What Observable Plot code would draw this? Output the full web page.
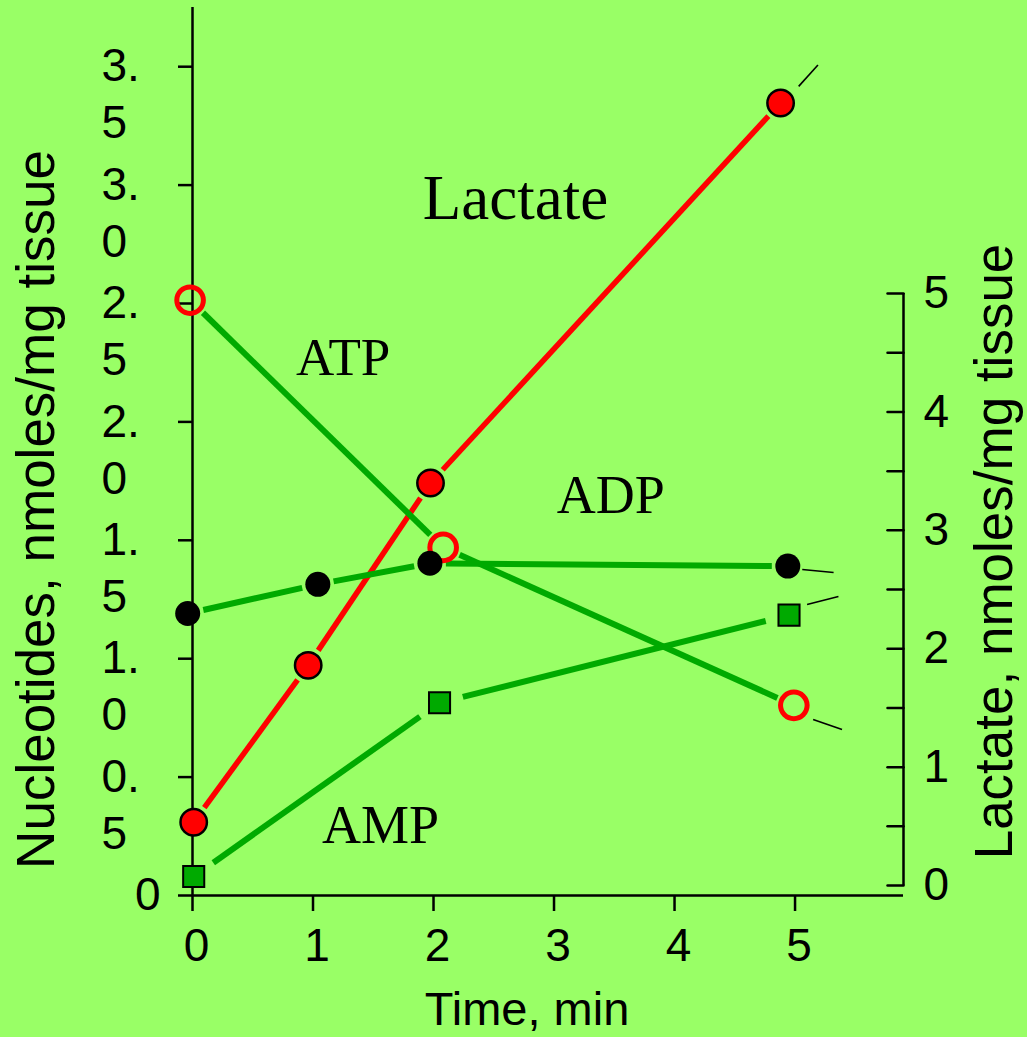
<!DOCTYPE html>
<html><head><meta charset="utf-8">
<script src="https://cdn.jsdelivr.net/npm/d3@7"></script>
<script src="https://cdn.jsdelivr.net/npm/@observablehq/plot@0.6"></script>
<style>
html,body{margin:0;padding:0;background:#99ff66;overflow:hidden;}
</style></head><body><div id="chart"></div>
<script>
// ---- data ----
const timeLactate = [0.01, 0.96, 1.975, 4.88];
const lactate     = [0.535, 1.86, 3.40, 6.61];     // nmoles/mg tissue (right axis)
const timeATP = [-0.02, 2.08, 4.99];
const atp     = [2.514, 1.47, 0.803];              // nmoles/mg tissue (left axis)
const timeADP = [-0.04, 1.04, 1.97, 4.94];
const adp     = [1.191, 1.314, 1.403, 1.391];
const timeAMP = [0.01, 2.05, 4.95];
const amp     = [0.080, 0.814, 1.184];

const xTicks = [0, 1, 2, 3, 4, 5];
const nucTicks = [0, 0.5, 1, 1.5, 2, 2.5, 3, 3.5];
const lactTicks = [0, 0.5, 1, 1.5, 2, 2.5, 3, 3.5, 4, 4.5, 5];
const lactLabels = [0, 1, 2, 3, 4, 5];

const seriesNames = ["Lactate", "ATP", "ADP", "AMP"];
const seriesLabelT = [2.68, 1.25, 3.47, 1.56];
const seriesLabelV = [2.94, 2.27, 1.69, 0.296];
const seriesLabelSize = [63, 53, 54, 54];

// continuation strokes after the last point
const tailSeries = ["Lactate", "ADP", "AMP", "ATP"];
const tailT1 = [5.03, 5.06, 5.10, 5.15];
const tailT2 = [5.19, 5.32, 5.36, 5.39];
const tailV1 = [6.75, 1.377, 1.229, 0.743];
const tailV2 = [6.93, 1.364, 1.263, 0.701];

// ---- scales ----
const X_MAX = 5.9, Y_MAX = 3.75;
// the lactate (right) axis expressed on the nucleotide (left) scale
const toNuc = L => 0.042 + 0.5 * L;

const pts = (ts, vs, conv = v => v) => ts.map((t, i) => ({t, v: conv(vs[i])}));
const lacPts = pts(timeLactate, lactate, toNuc);
const atpPts = pts(timeATP, atp);
const adpPts = pts(timeADP, adp);
const ampPts = pts(timeAMP, amp);

const tails = tailSeries.map((s, i) => {
  const c = s === "Lactate" ? toNuc : (v => v);
  return {s, t1: tailT1[i], t2: tailT2[i], v1: c(tailV1[i]), v2: c(tailV2[i])};
});
const labels = seriesNames.map((n, i) => ({n, t: seriesLabelT[i], v: seriesLabelV[i], size: seriesLabelSize[i]}));

const GREEN = "#00aa00", RED = "#ff0000";
const segs = (p, stroke, width, inset) => Plot.arrow(d3.pairs(p), {
  x1: d => d[0].t, y1: d => d[0].v, x2: d => d[1].t, y2: d => d[1].v,
  headLength: 0, insetStart: inset, insetEnd: inset,
  stroke, strokeWidth: width, strokeLinecap: "butt"
});

const tickShape = {draw(context, l) { context.moveTo(0, 0); context.lineTo(0, -l); }};
const fmt1 = d3.format(".1f");

const chart = Plot.plot({
  width: 1027, height: 1037,
  marginLeft: 192, marginRight: 124, marginTop: 7, marginBottom: 142,
  x: {domain: [0, X_MAX]},
  y: {domain: [0, Y_MAX]},
  style: {background: "#99ff66", fontFamily: "'Liberation Sans', Arial, sans-serif", fontSize: "46px", color: "black", overflow: "visible"},
  marks: [
    // left axis
    Plot.ruleX([0], {y1: 0, y2: Y_MAX, stroke: "black", strokeWidth: 2.5}),
    Plot.axisY({ticks: nucTicks, anchor: "left", tickSize: 14, tickFormat: () => "", label: null, strokeWidth: 2.5}),
    Plot.text(nucTicks.filter(d => d > 0), {y: d => d, text: d => fmt1(d).split(".")[0] + ".", frameAnchor: "left", dx: -91, textAnchor: "start", fontSize: 46}),
    Plot.text(nucTicks.filter(d => d > 0), {y: d => d, text: d => fmt1(d).split(".")[1], frameAnchor: "left", dx: -91, dy: 57, textAnchor: "start", fontSize: 46}),
    Plot.text(nucTicks.filter(d => d === 0), {y: d => d, text: () => "0", frameAnchor: "left", dx: -32, textAnchor: "end", fontSize: 46}),
    // bottom axis
    Plot.ruleY([0], {x1: 0, x2: X_MAX, stroke: "black", strokeWidth: 2.5}),
    Plot.axisX({ticks: xTicks, anchor: "bottom", tickSize: 16, tickFormat: () => "", label: null, strokeWidth: 2.5}),
    Plot.text(xTicks, {x: d => d, text: d => String(d), frameAnchor: "bottom", dy: 33, dx: 4, lineAnchor: "top", fontSize: 46}),
    // right (lactate) axis
    Plot.ruleX([X_MAX], {y1: toNuc(0), y2: toNuc(5), stroke: "black", strokeWidth: 2.5}),
    Plot.vector(lactTicks, {x: () => X_MAX, y: d => toNuc(d), length: 16, rotate: -90, anchor: "start", shape: tickShape, stroke: "black", strokeWidth: 2.5}),
    Plot.text(lactLabels, {x: () => X_MAX, y: d => toNuc(d), text: d => String(d), dx: 20, textAnchor: "start", fontSize: 46}),
    // lines
    segs(lacPts, RED, 5.5, 18),
    segs(atpPts, GREEN, 6, 18),
    segs(adpPts, GREEN, 6, 16),
    segs(ampPts, GREEN, 6, 24),
    // continuation strokes
    Plot.link(tails, {x1: "t1", y1: "v1", x2: "t2", y2: "v2", stroke: "black", strokeWidth: 1.6}),
    // markers
    Plot.dot(atpPts, {x: "t", y: "v", r: 13.3, fill: "none", stroke: RED, strokeWidth: 5}),
    Plot.dot(adpPts, {x: "t", y: "v", r: 12.5, fill: "black", stroke: "none"}),
    Plot.dot(ampPts, {x: "t", y: "v", r: 11.9, symbol: "square", fill: GREEN, stroke: "black", strokeWidth: 2}),
    Plot.dot(lacPts, {x: "t", y: "v", r: 13.2, fill: RED, stroke: "black", strokeWidth: 2.5}),
    // series labels
    Plot.text(labels, {x: "t", y: "v", text: "n", fontSize: d => d.size, fontFamily: "'Liberation Serif', 'Times New Roman', serif", lineAnchor: "middle"}),
    // axis titles
    Plot.text(["Nucleotides, nmoles/mg tissue"], {text: d => d, frameAnchor: "left", textAnchor: "middle", rotate: -90, dx: -155, dy: 58, fontSize: 53, lineAnchor: "middle"}),
    Plot.text(["Lactate, nmoles/mg tissue"], {text: d => d, frameAnchor: "right", textAnchor: "middle", rotate: -90, dx: 92, dy: 100, fontSize: 53, lineAnchor: "middle"}),
    Plot.text(["Time, min"], {text: d => d, frameAnchor: "bottom", textAnchor: "middle", dx: -21, dy: 114, fontSize: 47, lineAnchor: "middle"})
  ]
});
document.getElementById("chart").appendChild(chart);
</script>
</body></html>
